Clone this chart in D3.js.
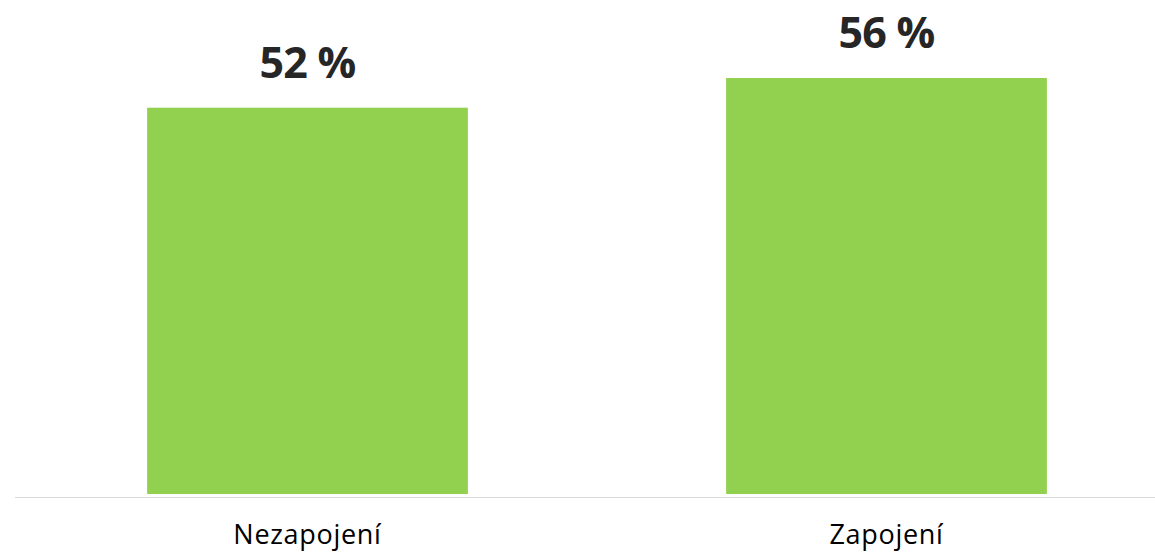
<!DOCTYPE html>
<html>
<head>
<meta charset="utf-8">
<script src="https://cdn.jsdelivr.net/npm/d3@7"></script>
<style>
  body { margin: 0; background: #fff; }
  svg { display: block; }
</style>
</head>
<body>
<div id="chart"></div>
<script>
var categories = ["Nezapojení", "Zapojení"];
var values = [52, 56];
var valueLabels = ["52 %", "56 %"];

var svg = d3.select("#chart").append("svg").attr("width", 1155).attr("height", 553),
  baseY = 494;

var x = d3.scaleBand()
  .domain(categories)
  .range([18, 1176])
  .paddingInner(0.446)
  .paddingOuter(0.223);

var y = d3.scaleLinear().domain([0, 66.5]).range([baseY, 0]);

svg.selectAll(".bar")
  .data(values)
  .enter().append("rect")
  .attr("class", "bar")
  .attr("x", function (d, i) { return x(categories[i]); })
  .attr("y", function (d) { return y(d); })
  .attr("width", x.bandwidth())
  .attr("height", function (d) { return baseY - y(d); })
  .attr("fill", "#92D050");

// baseline
svg.append("line")
  .attr("x1", 15).attr("x2", 1155)
  .attr("y1", baseY + 3.5).attr("y2", baseY + 3.5)
  .attr("stroke", "#d9d9d9")
  .attr("stroke-width", 1.2);

// value labels
svg.selectAll(".val")
  .data(values)
  .enter().append("text")
  .attr("class", "val")
  .attr("x", function (d, i) { return x(categories[i]) + x.bandwidth() / 2; })
  .attr("y", function (d) { return y(d) - 30; })
  .attr("text-anchor", "middle")
  .style("font-family", "'Open Sans', sans-serif")
  .style("font-weight", "bold")
  .style("font-size", "43px")
  .style("letter-spacing", "-0.8px")
  .style("fill", "#262626")
  .text(function (d, i) { return valueLabels[i]; });

// category labels
svg.selectAll(".cat")
  .data(categories)
  .enter().append("text")
  .attr("class", "cat")
  .attr("x", function (d) { return x(d) + x.bandwidth() / 2; })
  .attr("y", 544)
  .attr("text-anchor", "middle")
  .style("font-family", "'Open Sans', sans-serif")
  .style("font-size", "27px")
  .style("letter-spacing", "0.7px")
  .style("fill", "#000")
  .text(function (d) { return d; });
</script>
</body>
</html>
